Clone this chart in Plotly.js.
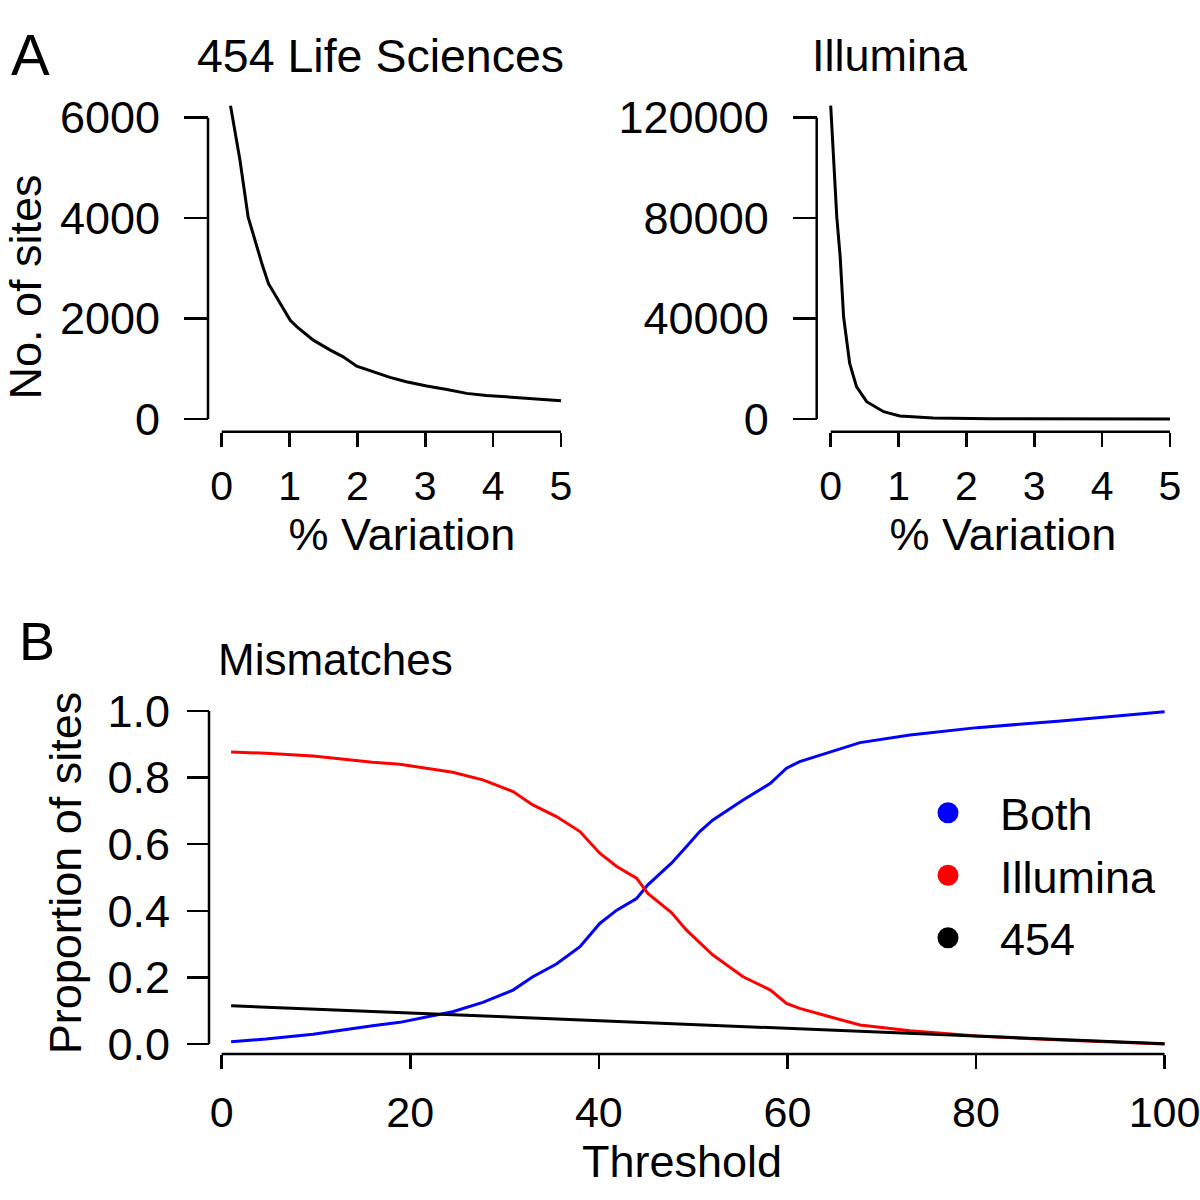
<!DOCTYPE html>
<html>
<head>
<meta charset="utf-8">
<script src="https://cdn.plot.ly/plotly-3.0.1.min.js"></script>
<style>html,body{margin:0;padding:0;background:#fff;}#chart{width:1200px;height:1200px;}</style>
</head>
<body>
<div id="chart"></div>
<script>
// ---- Panel A, left: 454 Life Sciences ----
const variation454 = [0.13,0.27,0.39,0.45,0.52,0.60,0.69,0.86,1.01,1.11,1.35,1.60,1.79,1.99,2.23,2.48,2.72,3.02,3.32,3.61,3.90,4.30,4.69,5.0];
const sites454 = [6238,5146,4020,3740,3424,3060,2695,2298,1967,1834,1570,1371,1238,1053,940,828,742,656,589,510,470,430,391,364];

// ---- Panel A, right: Illumina ----
const variationIllumina = [0,0.09,0.14,0.19,0.28,0.38,0.53,0.78,1.02,1.51,2.35,3.5,5.0];
const sitesIllumina = [124800,80400,64500,40700,22100,12900,6900,2900,1200,400,130,50,20];

// ---- Panel B: Mismatches ----
const threshold = [1,4.7,9.7,12.8,16,18.9,21.7,24.5,27.7,30.9,33,35.5,38,40.1,41.9,44,45.2,47.7,49.3,50.7,52.1,55.3,58.2,59.9,61.3,64.2,67.7,73,80.1,89,100];
const propBoth = [0.007,0.015,0.029,0.042,0.055,0.065,0.080,0.097,0.125,0.162,0.202,0.240,0.292,0.362,0.402,0.437,0.478,0.543,0.593,0.638,0.673,0.733,0.783,0.828,0.848,0.873,0.905,0.928,0.950,0.970,0.998];
const propIllumina = [0.877,0.873,0.865,0.856,0.846,0.840,0.829,0.816,0.793,0.758,0.718,0.683,0.638,0.573,0.533,0.498,0.452,0.395,0.342,0.305,0.267,0.202,0.162,0.122,0.107,0.084,0.057,0.040,0.024,0.012,0.0];
const threshold454 = [1,20,40,60,80,100];
const prop454 = [0.115,0.093,0.070,0.047,0.024,0.001];

// ---- Ticks / labels ----
const xTicksVar = [0,1,2,3,4,5];
const yTicks454 = [0,2000,4000,6000];
const yTickText454 = ['0','2000','4000','6000'];
const yTicksIll = [0,40000,80000,120000];
const yTickTextIll = ['0','40000','80000','120000'];
const xTicksThr = [0,20,40,60,80,100];
const yTicksProp = [0,0.2,0.4,0.6,0.8,1.0];

const seriesNames = ['Both','Illumina','454'];
const seriesColors = ['#0000FF','#FF0000','#000000'];

const FONT = 'Liberation Sans, Arial, Helvetica, sans-serif';
const LW = 3;

const traces = [
  {x: variation454, y: sites454, xaxis:'x', yaxis:'y', mode:'lines', line:{color:'#000', width:LW}, showlegend:false},
  {x: variationIllumina, y: sitesIllumina, xaxis:'x2', yaxis:'y2', mode:'lines', line:{color:'#000', width:LW}, showlegend:false},
  {x: threshold, y: propBoth, xaxis:'x3', yaxis:'y3', mode:'lines', line:{color:seriesColors[0], width:LW}, name:seriesNames[0], legendgroup:'g0', showlegend:false},
  {x: threshold, y: propIllumina, xaxis:'x3', yaxis:'y3', mode:'lines', line:{color:seriesColors[1], width:LW}, name:seriesNames[1], legendgroup:'g1', showlegend:false},
  {x: threshold454, y: prop454, xaxis:'x3', yaxis:'y3', mode:'lines', line:{color:seriesColors[2], width:LW}, name:seriesNames[2], legendgroup:'g2', showlegend:false}
];
// legend entries (circle keys)
seriesNames.forEach((n,i)=>{
  traces.push({x:[null], y:[null], xaxis:'x3', yaxis:'y3', mode:'markers', name:n, legendgroup:'g'+i,
    marker:{symbol:'circle', size:16, color:seriesColors[i], line:{color:seriesColors[i], width:5}}, showlegend:true});
});

const px = v => v/1200;          // horizontal pixel -> paper
const py = v => 1 - v/1200;      // vertical pixel -> paper

const tickCommon = {ticks:'outside', tickwidth:2.5, tickcolor:'#000', showline:false, showgrid:false, zeroline:false, tickmode:'array', fixedrange:true, ticklabeloverflow:'allow'};
const tf = s => ({size:s, family:FONT, color:'#000'});

const layout = {
  width:1200, height:1200,
  margin:{l:0,r:0,t:0,b:0},
  paper_bgcolor:'#fff', plot_bgcolor:'#fff',
  font:{family:FONT, size:42, color:'#000'},
  showlegend:true,
  legend:{x:px(896), y:py(777), xanchor:'left', yanchor:'top', bgcolor:'rgba(0,0,0,0)', borderwidth:0,
          font:{size:45, family:FONT, color:'#000'}, itemwidth:94, itemsizing:'trace', tracegroupgap:1},
  xaxis: Object.assign({}, tickCommon, {domain:[px(215), px(589)], range:[-0.0987, 5.4126], anchor:'free', position:py(431.7),
          tickvals:xTicksVar, ticklen:14, tickfont:tf(41), ticklabelstandoff:4, title:{text:'% Variation', font:{size:45}, standoff:0}}),
  yaxis: Object.assign({}, tickCommon, {domain:[py(479), py(95)], range:[-1194.8, 6452], anchor:'free', position:px(208),
          tickvals:yTicks454, ticktext:yTickText454, ticklen:24, tickfont:tf(45), ticklabelstandoff:15, title:{text:'No. of sites', font:{size:45}, standoff:3}}),
  xaxis2: Object.assign({}, tickCommon, {domain:[px(824), px(1182)], range:[-0.0987, 5.177], anchor:'free', position:py(431.7),
          tickvals:xTicksVar, ticklen:14, tickfont:tf(41), ticklabelstandoff:4, title:{text:'% Variation', font:{size:45}, standoff:0}}),
  yaxis2: Object.assign({}, tickCommon, {domain:[py(479), py(95)], range:[-23897, 129044], anchor:'free', position:px(816.7),
          tickvals:yTicksIll, ticktext:yTickTextIll, ticklen:24, tickfont:tf(45), ticklabelstandoff:15}),
  xaxis3: Object.assign({}, tickCommon, {domain:[px(190), px(1174)], range:[-3.36, 101.0], anchor:'free', position:py(1054),
          tickvals:xTicksThr, ticklen:14, tickfont:tf(43), ticklabelstandoff:6, title:{text:'Threshold', font:{size:45}, standoff:0}}),
  yaxis3: Object.assign({}, tickCommon, {domain:[py(1056), py(690)], range:[-0.036, 1.063], anchor:'free', position:px(209),
          tickvals:yTicksProp, tickformat:'.1f', ticklen:22, tickfont:tf(45), ticklabelstandoff:8, title:{text:'Proportion of sites', font:{size:45}, standoff:10}}),
  shapes:[
    {type:'line', xref:'x', yref:'paper', x0:xTicksVar[0], x1:xTicksVar[xTicksVar.length-1], y0:py(431.7), y1:py(431.7), line:{color:'#000', width:2.5}},
    {type:'line', xref:'paper', yref:'y', x0:px(208), x1:px(208), y0:yTicks454[0], y1:yTicks454[yTicks454.length-1], line:{color:'#000', width:2.5}},
    {type:'line', xref:'x2', yref:'paper', x0:xTicksVar[0], x1:xTicksVar[xTicksVar.length-1], y0:py(431.7), y1:py(431.7), line:{color:'#000', width:2.5}},
    {type:'line', xref:'paper', yref:'y2', x0:px(816.7), x1:px(816.7), y0:yTicksIll[0], y1:yTicksIll[yTicksIll.length-1], line:{color:'#000', width:2.5}},
    {type:'line', xref:'x3', yref:'paper', x0:xTicksThr[0], x1:xTicksThr[xTicksThr.length-1], y0:py(1054), y1:py(1054), line:{color:'#000', width:2.5}},
    {type:'line', xref:'paper', yref:'y3', x0:px(209), x1:px(209), y0:yTicksProp[0], y1:yTicksProp[yTicksProp.length-1], line:{color:'#000', width:2.5}}
  ],
  annotations:[
    {text:'A', xref:'paper', yref:'paper', x:px(9), y:py(55), xanchor:'left', yanchor:'middle', showarrow:false, font:{size:58, family:FONT}},
    {text:'454 Life Sciences', xref:'paper', yref:'paper', x:px(195), y:py(56), xanchor:'left', yanchor:'middle', showarrow:false, font:{size:46.5, family:FONT}},
    {text:'Illumina', xref:'paper', yref:'paper', x:px(810), y:py(56), xanchor:'left', yanchor:'middle', showarrow:false, font:{size:45, family:FONT}},
    {text:'B', xref:'paper', yref:'paper', x:px(17), y:py(641), xanchor:'left', yanchor:'middle', showarrow:false, font:{size:54, family:FONT}},
    {text:'Mismatches', xref:'paper', yref:'paper', x:px(216), y:py(659), xanchor:'left', yanchor:'middle', showarrow:false, font:{size:44, family:FONT}}
  ]
};

Plotly.newPlot('chart', traces, layout, {staticPlot:true, displayModeBar:false});
</script>
</body>
</html>
